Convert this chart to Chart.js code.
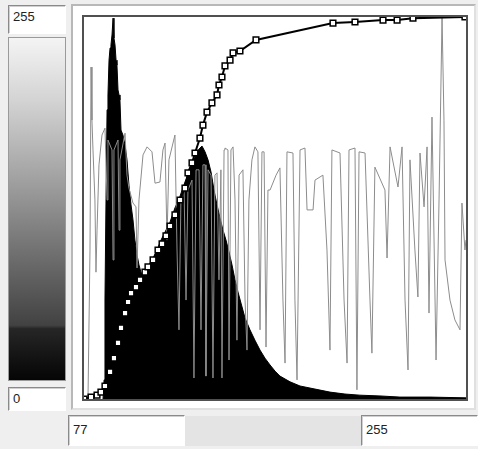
<!DOCTYPE html>
<html lang="en">
  <head>
    <meta charset="UTF-8" />
    <title>Histogram equalization</title>
    <script src="https://cdn.jsdelivr.net/npm/chart.js@4"></script>
    <style>
      body { margin: 0; background: #efefef; font-family: "Liberation Sans", Arial, sans-serif; }
      .box { position: absolute; background: #fff; box-sizing: border-box;
             border-top: 1px solid #8a8a8a; border-left: 1px solid #8a8a8a;
             border-bottom: 1px solid #fff; border-right: 1px solid #fff;
             box-shadow: inset 1px 1px 0 #d0d0d0; font-size: 13px; color: #222;
             padding: 3px 0 0 4px; }
      #grad { position: absolute; left: 8px; top: 37px; width: 58px; height: 344px; box-sizing: border-box;
              border: 1px solid #9a9a9a;
              background: linear-gradient(#f4f4f4 0%, #d4d4d4 18%, #a4a4a4 40%, #727272 62%, #424242 84%, #262626 85%, #050505 100%); }
      #panel { position: absolute; left: 71px; top: 4px; width: 405px; height: 406px; background: #fff;
               box-sizing: border-box; border: 2px solid #b8b8b8; border-right-color: #e0e0e0; border-bottom-color: #e0e0e0; }
      #frame { position: absolute; left: 82px; top: 15px; width: 386px; height: 386px; box-sizing: border-box;
               border: 2px solid #505050; }
      #trough { position: absolute; left: 185px; top: 416px; width: 176px; height: 30px; background: #e4e4e4; }
      canvas { position: absolute; left: 84px; top: 17px; }
    </style>
  </head>
  <body>
    <div class="box" style="left:8px;top:5px;width:58px;height:29px;">255</div>
    <div id="grad"></div>
    <div class="box" style="left:8px;top:387px;width:58px;height:24px;">0</div>
    <div id="panel"></div>
    <div id="frame"></div>
    <div id="trough"></div>
    <div class="box" style="left:68px;top:415px;width:117px;height:31px;padding-top:6px;">77</div>
    <div class="box" style="left:361px;top:415px;width:117px;height:31px;padding-top:6px;">255</div>
    <canvas id="myChart" width="382" height="382"></canvas>
    <script>
      // original histogram (grey level -> relative count, %)
      const histLevels = [12.7, 13.4, 14.0, 14.7, 15.4, 16.0, 16.7, 17.4, 18.0, 18.7, 19.4, 20.0, 20.7, 21.4, 22.0, 22.7,
        23.4, 24.0, 24.7, 26.0, 27.4, 28.7, 30.0, 31.4, 32.7, 34.0, 35.4, 36.7, 38.0, 40.1, 42.1, 44.1, 46.1, 48.7,
        51.4, 54.1, 57.4, 60.7, 64.1, 67.4, 70.8, 73.4, 75.4, 77.4, 78.8, 80.8, 82.8, 84.8, 86.8, 88.8, 90.8, 92.8,
        94.8, 96.8, 98.8, 100.8, 102.8, 104.8, 107.5, 110.8, 114.1, 117.5, 120.8, 124.2, 127.5, 130.8, 137.5, 144.2,
        154.2, 164.2, 174.2, 184.2, 197.6, 210.9, 231.0, 255];
      const histCounts = [0, 5.0, 26.2, 52.4, 75.7, 79.6, 88.7, 91.9, 92.7, 95.3, 99.7, 94.5, 92.7, 88.7, 87.4, 80.9,
        79.6, 78.3, 70.4, 69.1, 66.5, 62.6, 56.0, 50.8, 46.9, 41.6, 37.7, 35.1, 33.2, 32.2, 33.2, 35.1, 36.9, 39.0,
        41.6, 43.7, 46.3, 50.0, 53.1, 56.8, 60.0, 62.6, 64.7, 65.7, 66.2, 64.7, 62.6, 59.4, 54.7, 50.8, 47.4, 44.2,
        41.6, 38.5, 35.1, 31.2, 28.0, 25.1, 21.2, 18.1, 15.4, 12.8, 10.7, 8.9, 7.3, 6.0, 4.5, 3.4,
        2.6, 1.8, 1.3, 1.0, 0.8, 0.5, 0.5, 0.3];

      // equalized histogram (grey line)
      const eqLevels = [0, 2.7, 4.0, 4.7, 5.3, 6.0, 7.3, 8.0, 8.7, 10.0, 12.0, 14.0, 15.4, 16.0, 18.7, 19.4, 20.0,
        22.7, 23.4, 24.0, 27.4, 28.7, 30.0, 32.7, 34.7, 35.4, 36.7, 39.4, 42.1, 45.4, 47.4, 50.7, 52.7, 54.1, 55.4,
        56.7, 60.7, 62.1, 63.4, 64.7, 66.8, 68.1, 69.4, 72.1, 73.4, 74.8, 76.8, 78.1, 79.4, 80.8, 81.4, 82.8, 84.8,
        86.1, 87.4, 88.8, 90.1, 91.4, 92.1, 93.5, 94.1, 96.1, 96.8, 98.1, 99.5, 100.8, 102.1, 103.5, 106.1, 107.5,
        108.8, 110.1, 112.1, 114.1, 116.1, 117.5, 118.8, 120.2, 121.5, 122.8, 124.2, 128.2, 130.8, 132.8, 134.2,
        135.5, 139.5, 140.8, 142.2, 144.2, 147.5, 148.9, 152.9, 154.2, 159.5, 162.2, 164.2, 165.5, 170.9, 173.6,
        175.6, 176.9, 180.9, 182.2, 183.6, 187.6, 190.9, 192.2, 194.2, 200.9, 202.3, 204.3, 209.6, 212.3, 214.3,
        216.3, 217.6, 220.9, 222.9, 224.3, 227.0, 229.0, 230.3, 232.3, 235.0, 237.0, 239.0, 240.3, 241.0, 244.3,
        247.6, 251.0, 252.3, 254.3, 255];
      const eqCounts = [0, 1.0, 39.0, 86.9, 73.0, 65.2, 52.1, 33.2, 44.2, 61.3, 69.1, 70.9, 52.1, 67.8, 65.2, 36.4, 65.2,
        67.8, 44.2, 62.6, 69.6, 58.6, 55.2, 51.3, 50.3, 34.3, 52.1, 63.9, 66.0, 64.7, 56.5, 56.8, 65.2, 67.0, 41.6,
        62.6, 69.1, 39.0, 18.1, 52.1, 54.7, 25.9, 54.7, 57.3, 5.5, 60.0, 60.0, 18.1, 61.3, 61.3, 6.0, 60.0, 58.6,
        5.5, 58.6, 59.2, 31.2, 60.0, 5.5, 65.2, 65.7, 65.2, 10.2, 65.2, 66.0, 52.1, 15.4, 58.6, 60.0, 25.9,
        12.8, 52.1, 62.6, 66.0, 64.7, 18.1, 64.7, 64.7, 13.6, 54.7, 54.7, 58.6, 60.5, 25.9, 9.4,
        64.7, 64.4, 25.9, 5.0, 65.2, 65.7, 49.5, 49.5, 57.3, 58.6, 39.0, 12.8, 65.2, 64.4, 25.9,
        9.4, 65.2, 65.7, 2.4, 64.7, 64.4, 25.9, 12.0, 60.7, 54.7, 36.9, 66.0, 55.5, 66.0, 25.9,
        7.6, 62.6, 39.0, 26.7, 64.4, 50.3, 66.0, 22.5, 73.8, 10.2, 52.1, 100, 73.0, 36.4, 25.9,
        20.7, 18.1, 51.3, 39.0, 41.6];

      // cumulative transfer curve
      const curveLevels = [0, 4.7, 8.7, 11.3, 14.0, 17.4, 20.0, 22.7, 24.7, 27.4, 29.4, 31.4, 34.7, 37.4, 40.7, 42.7,
        46.1, 49.4, 52.1, 54.7, 57.4, 60.7, 64.1, 67.4, 69.4, 72.1, 74.1, 77.4, 79.4, 82.1, 85.4, 88.8, 90.1, 92.1,
        94.1, 97.5, 99.5, 104.1, 114.8, 166.2, 180.9, 199.6, 209.0, 219.6, 254.3];
      const curveValues = [0, 0.5, 1.0, 1.8, 3.4, 7.1, 10.7, 14.7, 18.6, 22.5, 25.4, 27.7, 29.3, 31.2, 33.2, 34.6,
        36.4, 39.0, 40.6, 42.7, 45.3, 48.2, 52.1, 55.2, 59.2, 61.8, 64.4, 68.3, 71.7, 75.1, 77.5, 79.6, 82.2, 84.3,
        87.2, 88.7, 90.6, 91.1, 94.0, 98.4, 98.7, 99.2, 99.2, 99.7, 100];

      const pts = (xs, ys) => xs.map((x, i) => ({ x: x, y: ys[i] }));

      new Chart(document.getElementById("myChart").getContext("2d"), {
        type: "line",
        data: {
          datasets: [
            {
              data: pts(curveLevels, curveValues),
              borderColor: "#000",
              borderWidth: 2,
              pointStyle: "rect",
              pointRadius: 4,
              pointBackgroundColor: "#fff",
              pointBorderColor: "#000",
              pointBorderWidth: 1.5,
              clip: false,
              order: 0,
            },
            {
              data: pts(eqLevels, eqCounts),
              borderColor: "#8c8c8c",
              borderWidth: 1,
              pointRadius: 0,
              order: 1,
            },
            {
              data: pts(histLevels, histCounts),
              borderColor: "#000",
              backgroundColor: "#000",
              borderWidth: 1,
              fill: "origin",
              pointRadius: 0,
              order: 2,
            },
          ],
        },
        options: {
          responsive: false,
          animation: false,
          layout: { padding: 0, autoPadding: false },
          plugins: { legend: { display: false }, tooltip: { enabled: false } },
          scales: {
            x: { type: "linear", min: 0, max: 255, display: false },
            y: { min: 0, max: 100, display: false },
          },
        },
      });
    </script>
  </body>
</html>
